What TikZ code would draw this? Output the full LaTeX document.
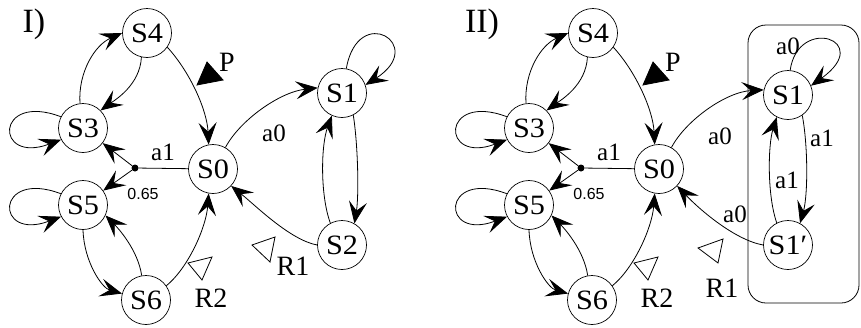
\documentclass[tikz,border=0pt]{standalone}
\usepackage{fontspec}
\setmainfont{Liberation Serif}
\newfontfamily\nodefont[FakeStretch=1.08]{Liberation Serif}
\newfontfamily\lsans{Liberation Sans}
\usetikzlibrary{arrows.meta}
\tikzset{
 st/.style={circle, draw, line width=0.7pt, minimum size=49pt, inner sep=0pt, font=\nodefont\fontsize{28}{28}\selectfont},
 arr/.style={line width=0.8pt, -{Stealth[length=22pt,width=18pt,inset=9pt]}},
 ln/.style={line width=0.8pt},
 lab/.style={font=\fontsize{25}{25}\selectfont, inner sep=0pt},
 big/.style={font=\fontsize{28}{28}\selectfont, inner sep=0pt},
 small/.style={font=\lsans\fontsize{16}{16}\selectfont, inner sep=0pt},
 title/.style={font=\fontsize{34}{34}\selectfont, inner sep=0pt},
 dotnode/.style={circle, fill, inner sep=0pt, minimum size=7pt},
 tri/.style={line width=0.8pt},
}
\begin{document}
\begin{tikzpicture}[x=1pt,y=-1pt]
\useasboundingbox (0,0) rectangle (861,327);
\foreach \p/\dx in {A/0,B/446}{
 \begin{scope}[xshift=\dx pt]
  \node[st] (\p S4) at (147,33) {S4};
  \node[st] (\p S3) at (83,128) {S3};
  \node[st] (\p S0) at (213,169) {S0};
  \node[st] (\p S5) at (83,205) {S5};
  \node[st] (\p S6) at (146,300) {S6};
  \node[dotnode] (\p dot) at (135,168) {};
  % S4 -> S3, S3 -> S4
  \draw[arr] (\p S4.257) .. controls (140,85) and (115,100) .. (\p S3.45);
  \draw[arr] (\p S3.97) .. controls (78,72) and (95,45) .. (\p S4.180);
  % S4 -> S0, S6 -> S0
  \draw[arr] (\p S4.-35) .. controls (190,72) and (207,110) .. (\p S0.100);
  \draw[arr] (\p S6.35) .. controls (188,268) and (206,228) .. (\p S0.-100);
  % S5 -> S6, S6 -> S5
  \draw[arr] (\p S5.270) .. controls (84,262) and (102,288) .. (\p S6.165);
  \draw[arr] (\p S6.100) .. controls (138,250) and (118,228) .. (\p S5.-25);
  % self loops
  \draw[arr] (\p S3.153) .. controls +(-66,-25) and +(-67,25) .. (\p S3.208);
  \draw[arr] (\p S5.153) .. controls +(-66,-25) and +(-67,25) .. (\p S5.208);
  % branch a1
  \draw[ln] (\p S0) -- (\p dot);
  \draw[arr] (\p dot) -- (\p S3);
  \draw[arr] (\p dot) -- (\p S5);
  \node[lab] (\p la1) at (163,152) {a1};
  \node[small] (\p lp) at (143,194) {0.65};
  % P and R2 markers
  \draw[tri, fill=black] (197,85) -- (207,62) -- (223,80) -- cycle;
  \node[big] (\p P) at (227,62) {P};
  \draw[tri] (188,263) -- (212,257) -- (202,280) -- cycle;
  \node[big] (\p R2) at (211,298) {R2};
 \end{scope}
}
% ---------- panel I ----------
\node[title] (tI) at (34,24) {I)};
\node[st] (S1) at (342,93) {S1};
\node[st] (S2) at (342,245) {S2};
\draw[arr] (AS0.60) .. controls (240,120) and (280,92) .. (S1.168);
\draw[arr] (S1.-63) .. controls (358,145) and (359,195) .. (S2.60);
\draw[arr] (S2.118) .. controls (320,195) and (321,145) .. (S1.246);
\draw[arr] (S2.180) .. controls (290,240) and (255,205) .. (AS0.-43);
\draw[arr] (S1.80) .. controls (358,2) and (428,45) .. (S1.19);
\node[lab] (la0) at (274,133) {a0};
\draw[tri] (252,245) -- (275,237) -- (270,262) -- cycle;
\node[big] (R1) at (293,266) {R1};
% ---------- panel II ----------
\node[title] (tII) at (482,24) {II)};
\draw[line width=0.8pt, rounded corners=18pt] (748,25) rectangle (859,303);
\node[st] (T1) at (788,95) {S1};
\node[st] (T1p) at (788,245) {S1′};
\draw[arr] (BS0.60) .. controls (686,120) and (726,92) .. (T1.168);
\draw[arr] (T1.-55) .. controls (808,145) and (808,195) .. (T1p.61);
\draw[arr] (T1p.117) .. controls (767,195) and (768,145) .. (T1.243);
\draw[arr] (T1p.180) .. controls (735,240) and (700,210) .. (BS0.-43);
\draw[arr] (T1.85) .. controls (798,15) and (875,40) .. (T1.22);
\node[lab] (lb1) at (720,136) {a0};
\node[lab] (lb2) at (822,138) {a1};
\node[lab] (lb3) at (787,180) {a1};
\node[lab] (lb4) at (735,214) {a0};
\node[lab] (lb5) at (788,46) {a0};
\draw[tri] (698,248) -- (723,239) -- (718,263) -- cycle;
\node[big] (R1b) at (722,288) {R1};
\end{tikzpicture}
\end{document}
